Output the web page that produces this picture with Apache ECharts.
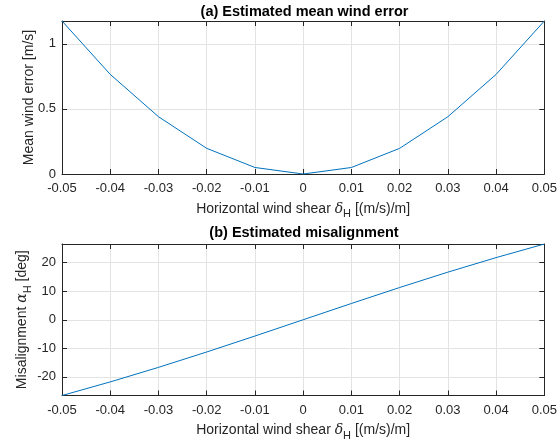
<!DOCTYPE html>
<html><head><meta charset="utf-8">
<script src="https://cdn.jsdelivr.net/npm/echarts@6/dist/echarts.min.js"></script>
<style>html,body{margin:0;padding:0;background:#fff}#c{width:560px;height:442px}</style>
</head><body><div id="c"></div>
<script>
const shear = [-0.05,-0.04,-0.03,-0.02,-0.01,0,0.01,0.02,0.03,0.04,0.05];
const windError = [1.175,0.765,0.44,0.197,0.05,0,0.05,0.197,0.44,0.765,1.175];
const misalign = [-26.57,-21.8,-16.7,-11.31,-5.71,0,5.71,11.31,16.7,21.8,26.57];
const xTicks = [-0.05,-0.04,-0.03,-0.02,-0.01,0,0.01,0.02,0.03,0.04,0.05];
const yTicksA = [0,0.5,1];
const yTicksB = [-20,-10,0,10,20];

const FONT = '"Liberation Sans", Arial, sans-serif';
const AX = '#262626';
const GRIDC = '#e3e3e3';
const fmt = v => Math.abs(v) < 1e-9 ? '0' : String(Math.round(v*1000)/1000);
const rich = {
  d:{fontFamily:'"DejaVu Serif", serif', fontStyle:'italic', fontSize:14, color:AX},
  s:{fontSize:11, color:AX, padding:[10,0,0,0]},
  a:{fontFamily:'"DejaVu Serif", serif', fontStyle:'italic', fontSize:14, color:AX}
};

function xAxes(gi){
  return [{
    type:'value', gridIndex:gi, min:-0.05, max:0.05, position:'bottom',
    axisLine:{onZero:false, lineStyle:{color:AX, width:1}},
    axisTick:{inside:true, length:5, customValues:xTicks, lineStyle:{color:AX}},
    axisLabel:{customValues:xTicks, formatter:fmt, color:AX, fontSize:13, fontFamily:FONT, margin:8},
    splitLine:{show:true, lineStyle:{color:GRIDC}},
    name:'Horizontal wind shear {d|δ}{s|H} [(m/s)/m]', nameLocation:'middle', nameGap:24.5,
    nameMoveOverlap:false,
    nameTextStyle:{fontSize:14, fontFamily:FONT, color:AX, rich:rich}
  },{
    type:'value', gridIndex:gi, min:-0.05, max:0.05, position:'top',
    axisLine:{onZero:false, lineStyle:{color:AX, width:1}},
    axisTick:{inside:true, length:5, customValues:xTicks, lineStyle:{color:AX}},
    axisLabel:{show:false}, splitLine:{show:false}
  }];
}
function yAxes(gi, min, max, ticks, name, gap){
  return [{
    type:'value', gridIndex:gi, min:min, max:max, position:'left',
    axisLine:{onZero:false, show:true, lineStyle:{color:AX, width:1}},
    axisTick:{show:true, inside:true, length:5, customValues:ticks, lineStyle:{color:AX}},
    axisLabel:{customValues:ticks, formatter:fmt, color:AX, fontSize:13, fontFamily:FONT, margin:6},
    splitLine:{show:true, lineStyle:{color:GRIDC}},
    name:name, nameLocation:'middle', nameGap:gap, nameRotate:90, nameMoveOverlap:false,
    nameTextStyle:{fontSize:14, fontFamily:FONT, color:AX, rich:rich}
  },{
    type:'value', gridIndex:gi, min:min, max:max, position:'right',
    axisLine:{onZero:false, show:true, lineStyle:{color:AX, width:1}},
    axisTick:{show:true, inside:true, length:5, customValues:ticks, lineStyle:{color:AX}},
    axisLabel:{show:false}, splitLine:{show:false}
  }];
}

const chart = echarts.init(document.getElementById('c'), null, {renderer:'canvas'});
chart.setOption({
  animation:false,
  backgroundColor:'#fff',
  title:[
    {text:'(a) Estimated mean wind error', left:304.5, top:4, padding:0, textAlign:'center',
     textStyle:{fontSize:14.5, fontWeight:'bold', fontFamily:FONT, color:'#000'}},
    {text:'(b) Estimated misalignment', left:304, top:225, padding:0, textAlign:'center',
     textStyle:{fontSize:14.5, fontWeight:'bold', fontFamily:FONT, color:'#000'}}
  ],
  grid:[
    {left:62, right:11, top:21, height:153},
    {left:62, right:11, top:244, height:153}
  ],
  xAxis:[...xAxes(0), ...xAxes(1)],
  yAxis:[
    ...yAxes(0, 0, 1.175, yTicksA, 'Mean wind error [m/s]', 25.5),
    ...yAxes(1, -26.57, 26.57, yTicksB, 'Misalignment {a|α}{s|H} [deg]', 29)
  ],
  series:[
    {type:'line', xAxisIndex:0, yAxisIndex:0, data:shear.map((x,i)=>[x, windError[i]]),
     showSymbol:false, lineStyle:{color:'#0072BD', width:1}},
    {type:'line', xAxisIndex:2, yAxisIndex:2, data:shear.map((x,i)=>[x, misalign[i]]),
     showSymbol:false, lineStyle:{color:'#0072BD', width:1}}
  ]
});
</script></body></html>
